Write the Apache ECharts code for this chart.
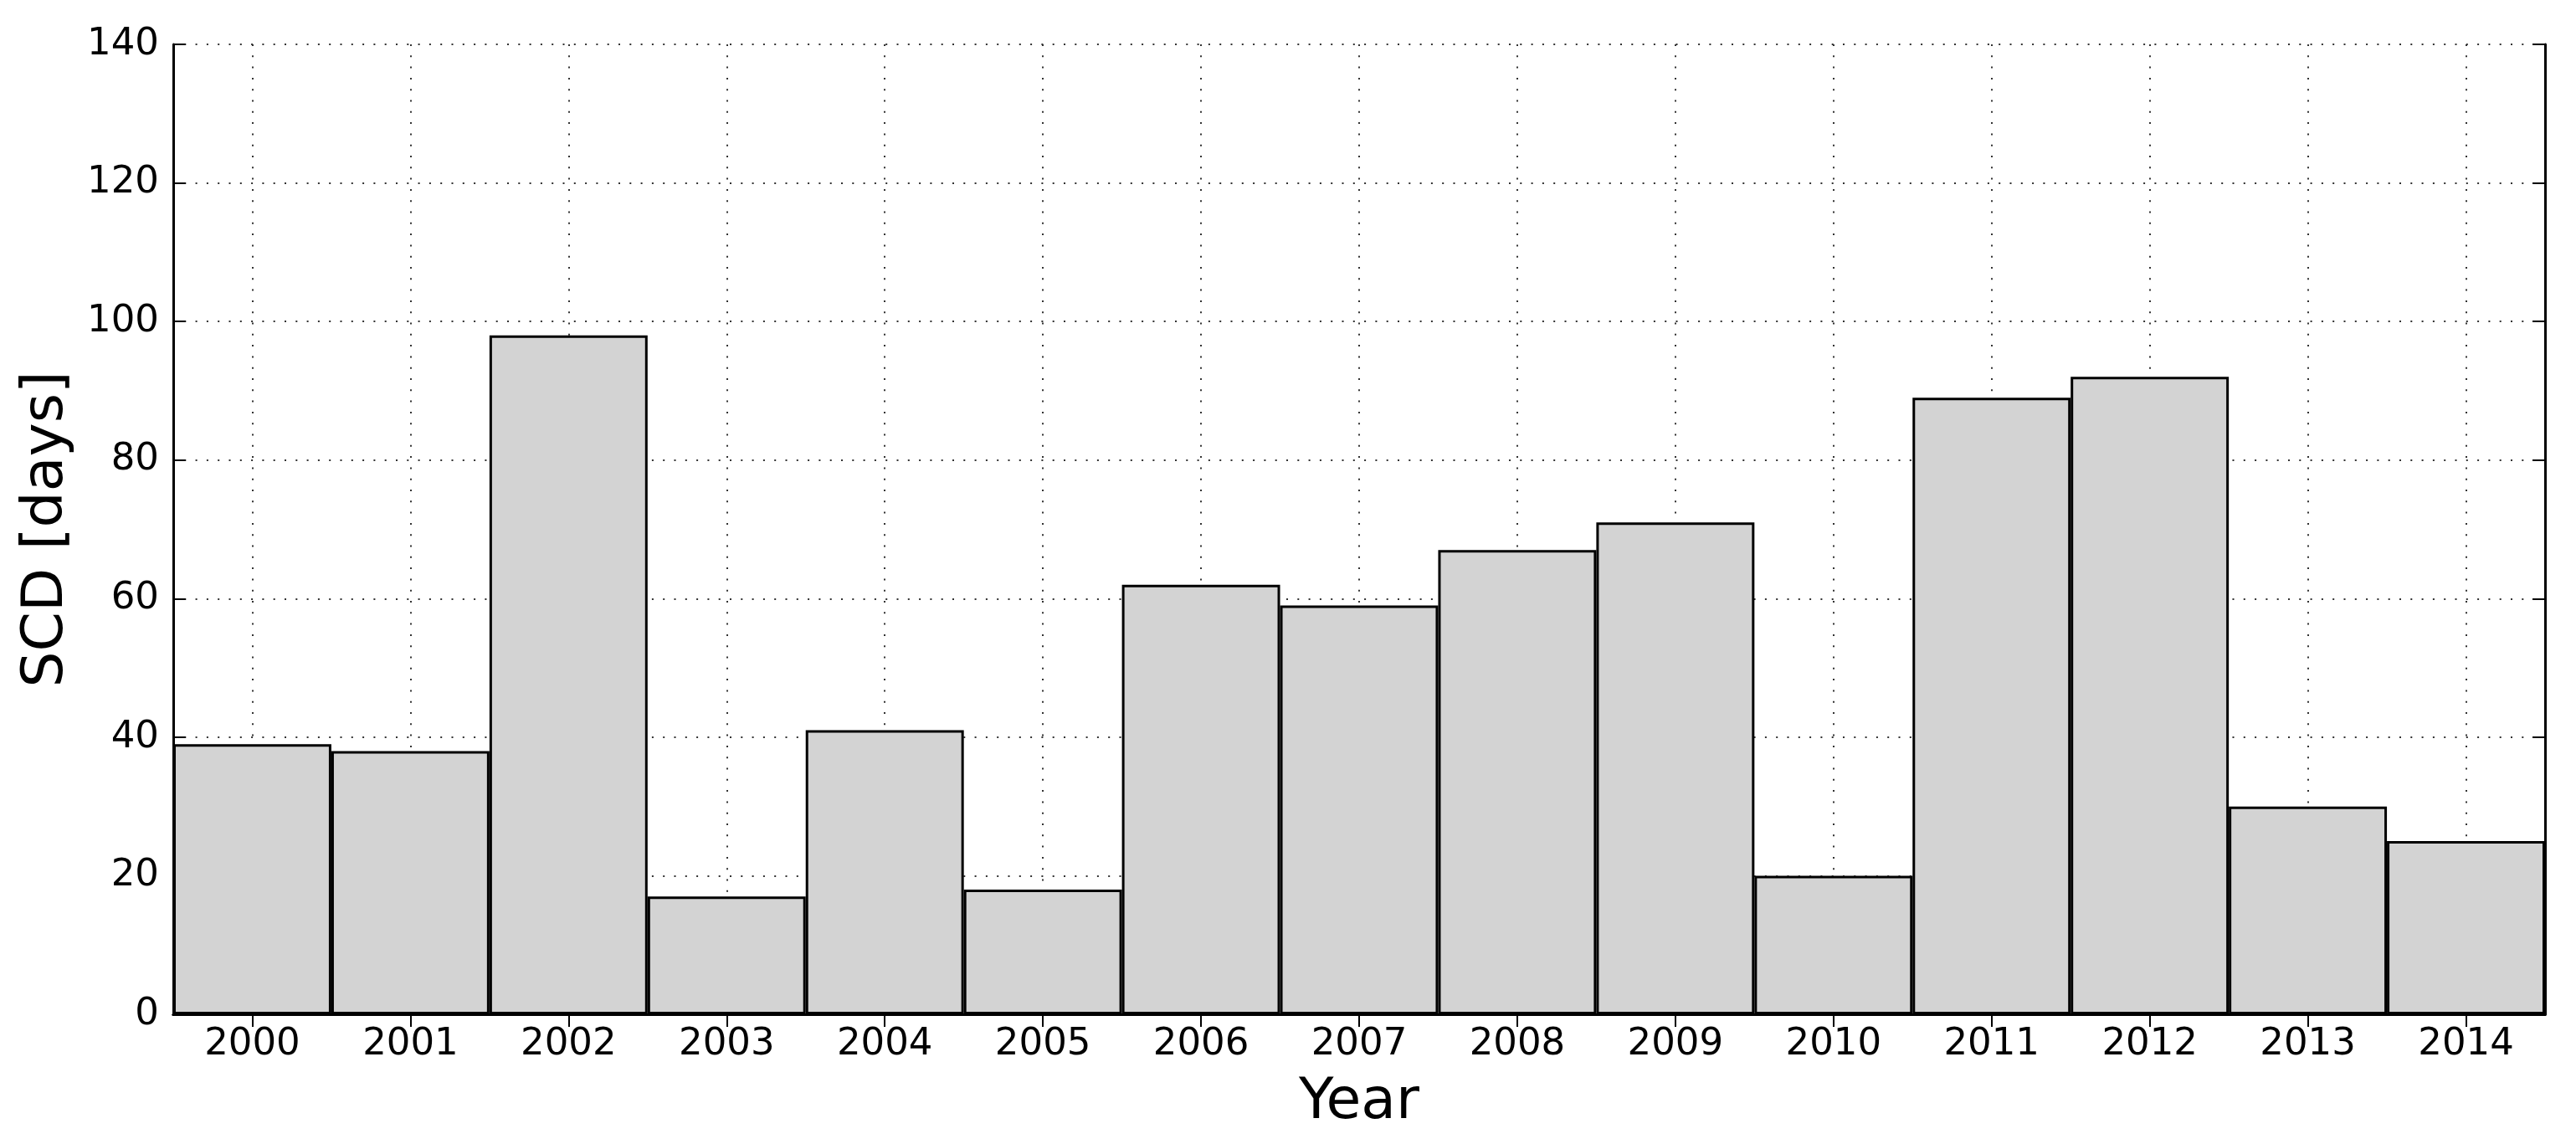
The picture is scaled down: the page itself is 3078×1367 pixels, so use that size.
<!DOCTYPE html>
<html>
<head>
<meta charset="utf-8">
<script src="https://cdn.jsdelivr.net/npm/echarts@6/dist/echarts.min.js"></script>
<style>
html,body{margin:0;padding:0;background:#fff;}
#chart{width:3078px;height:1367px;}
</style>
</head>
<body>
<div id="chart"></div>
<script>
const years = ['2000','2001','2002','2003','2004','2005','2006','2007','2008','2009','2010','2011','2012','2013','2014'];
const scdDays = [39, 38, 98, 17, 41, 18, 62, 59, 67, 71, 20, 89, 92, 30, 25];
const yTicks = [0, 20, 40, 60, 80, 100, 120, 140];

const FONT = 'DejaVu Sans';
const gridLine = { color: '#333', width: 2, type: [2, 11.3] };

const chart = echarts.init(document.getElementById('chart'), null, { renderer: 'canvas' });
chart.setOption({
  animation: false,
  backgroundColor: '#fff',
  grid: { left: 207, right: 37, top: 53, bottom: 155, containLabel: false },
  xAxis: [
    {
      type: 'category',
      data: years,
      boundaryGap: true,
      position: 'bottom',
      name: 'Year',
      nameLocation: 'middle',
      nameGap: 72,
      nameTextStyle: { fontFamily: FONT, fontSize: 68, color: '#000' },
      axisLine: { show: true, lineStyle: { color: '#000', width: 3 } },
      axisTick: { show: true, inside: true, alignWithLabel: true, length: 15, lineStyle: { color: '#000', width: 2 } },
      axisLabel: { fontFamily: FONT, fontSize: 45, color: '#000', margin: 14, interval: 0 },
      splitLine: { show: true, alignWithLabel: true, lineStyle: gridLine }
    },
    {
      type: 'category',
      data: years,
      boundaryGap: true,
      position: 'top',
      axisLine: { show: true, lineStyle: { color: '#000', width: 3 } },
      axisTick: { show: true, inside: true, alignWithLabel: true, length: 15, lineStyle: { color: '#000', width: 2 } },
      axisLabel: { show: false },
      splitLine: { show: false }
    }
  ],
  yAxis: [
    {
      type: 'value',
      min: yTicks[0],
      max: yTicks[yTicks.length - 1],
      interval: 20,
      position: 'left',
      name: 'SCD [days]',
      nameLocation: 'middle',
      nameGap: 117,
      nameTextStyle: { fontFamily: FONT, fontSize: 68, color: '#000' },
      axisLine: { show: true, lineStyle: { color: '#000', width: 3 } },
      axisTick: { show: true, inside: true, length: 15, lineStyle: { color: '#000', width: 2 } },
      axisLabel: { fontFamily: FONT, fontSize: 45, color: '#000', margin: 17 },
      splitLine: { show: true, lineStyle: gridLine }
    },
    {
      type: 'value',
      min: yTicks[0],
      max: yTicks[yTicks.length - 1],
      interval: 20,
      position: 'right',
      axisLine: { show: true, lineStyle: { color: '#000', width: 3 } },
      axisTick: { show: true, inside: true, length: 15, lineStyle: { color: '#000', width: 2 } },
      axisLabel: { show: false },
      splitLine: { show: false }
    }
  ],
  series: [
    {
      type: 'bar',
      data: scdDays,
      xAxisIndex: 0,
      yAxisIndex: 0,
      barWidth: '100%',
      barCategoryGap: 0,
      itemStyle: { color: '#d3d3d3', borderColor: '#000', borderWidth: 3 },
      z: 1
    }
  ]
});
</script>
</body>
</html>
